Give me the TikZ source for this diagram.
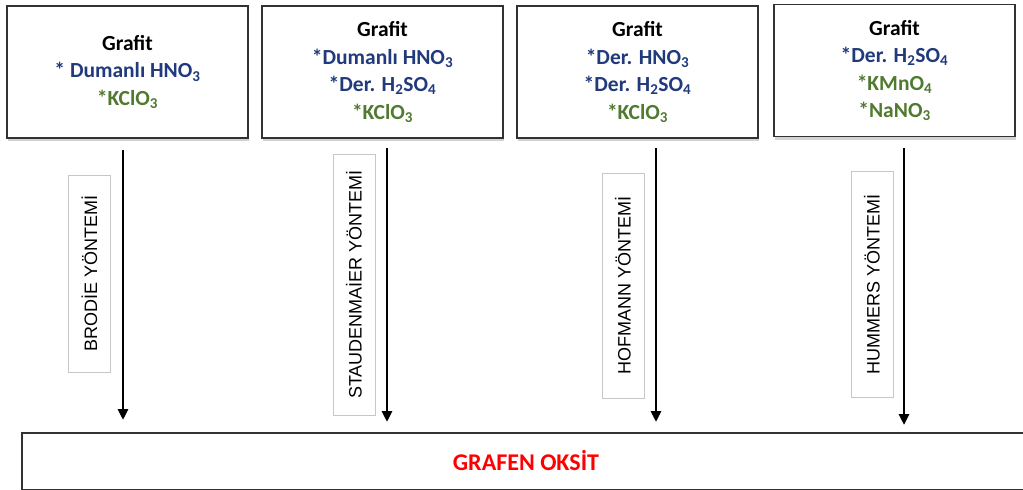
\documentclass[tikz,border=0pt]{standalone}
\usepackage{fontspec}
\setmainfont{Carlito}
\newfontfamily\labfont{Liberation Sans}
\usetikzlibrary{arrows.meta,shadows}
\definecolor{chemblue}{RGB}{32,58,124}
\definecolor{chemgreen}{RGB}{80,122,48}
\definecolor{boxline}{RGB}{50,50,50}
\begin{document}
\begin{tikzpicture}[x=1pt,y=-1pt,
  topbox/.style={draw=boxline,line width=1.8pt,fill=white,minimum width=241pt,minimum height=132pt,
    align=center,inner sep=0pt,font=\bfseries\fontsize{21.5}{27.5}\selectfont,
    drop shadow={opacity=0.35,shadow xshift=1pt,shadow yshift=-3pt}},
  labelbox/.style={draw=black!22,line width=0.8pt,rotate=90,minimum height=42pt,inner sep=0pt,
    font=\labfont\fontsize{18}{20}\selectfont},
  arr/.style={line width=2.8pt,-{Triangle[width=10pt,length=11pt]}}]
\useasboundingbox (0,0) rectangle (1023,490);
\clip (0,0) rectangle (1023,490);
\fill[white] (0,0) rectangle (1023,490);

\node[topbox] (b1) at (127.5,72) {Grafit\\ \textcolor{chemblue}{* Dumanlı HNO\textsubscript{3}}\\ \textcolor{chemgreen}{*KClO\textsubscript{3}}};
\node[topbox] (b2) at (382.5,72) {Grafit\\ \textcolor{chemblue}{*Dumanlı HNO\textsubscript{3}}\\ \textcolor{chemblue}{*Der. H\textsubscript{2}SO\textsubscript{4}}\\ \textcolor{chemgreen}{*KClO\textsubscript{3}}};
\node[topbox] (b3) at (637.5,72) {Grafit\\ \textcolor{chemblue}{*Der. HNO\textsubscript{3}}\\ \textcolor{chemblue}{*Der. H\textsubscript{2}SO\textsubscript{4}}\\ \textcolor{chemgreen}{*KClO\textsubscript{3}}};
\node[topbox] (b4) at (894.5,70.5) {Grafit\\ \textcolor{chemblue}{*Der. H\textsubscript{2}SO\textsubscript{4}}\\ \textcolor{chemgreen}{*KMnO\textsubscript{4}}\\ \textcolor{chemgreen}{*NaNO\textsubscript{3}}};

\node[draw=boxline,line width=1.8pt,fill=white,minimum width=1020pt,minimum height=57pt,inner sep=0pt,
  anchor=north west] (go) at (21,432) {};
\node (gotext) at (526,461) {\textcolor{red}{\bfseries\fontsize{24}{26}\selectfont GRAFEN OKSİT}};

\node[labelbox,minimum width=197pt] (l1) at (89.5,273.5) {BRODİE YÖNTEMİ};
\node[labelbox,minimum width=261pt] (l2) at (354,284.5) {STAUDENMAİER YÖNTEMİ};
\node[labelbox,minimum width=225pt] (l3) at (623,285.5) {HOFMANN YÖNTEMİ};
\node[labelbox,minimum width=226pt] (l4) at (872,284) {HUMMERS YÖNTEMİ};

\coordinate (s1) at (123,150);
\coordinate (s2) at (387,148);
\coordinate (s3) at (656,148);
\coordinate (s4) at (904,148);
\draw[arr,shorten >=12pt] (s1) -- (s1 |- go.north);
\draw[arr,shorten >=10pt] (s2) -- (s2 |- go.north);
\draw[arr,shorten >=10pt] (s3) -- (s3 |- go.north);
\draw[arr,shorten >=7pt] (s4) -- (s4 |- go.north);
\end{tikzpicture}
\end{document}
